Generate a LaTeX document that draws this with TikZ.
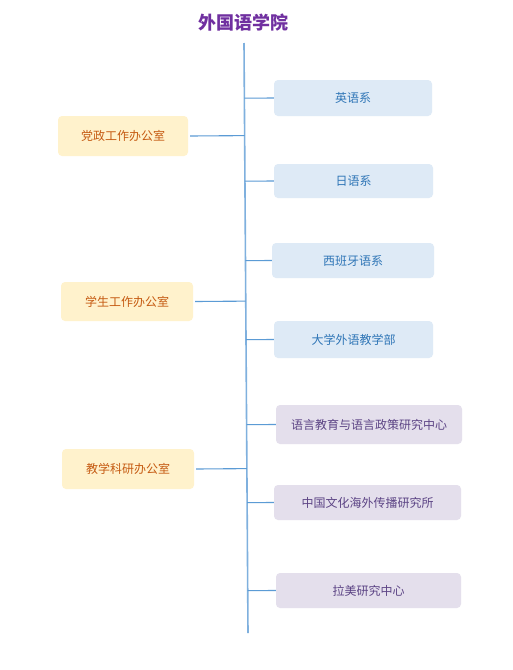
\documentclass[tikz,border=0pt]{standalone}
\usepackage{fontspec}
\setmainfont{Noto Sans CJK SC}
\usetikzlibrary{calc}
\definecolor{linec}{HTML}{5B9BD5}
\definecolor{vlinec}{HTML}{7FB0DE}
\definecolor{bluefill}{HTML}{DEEAF6}
\definecolor{bluetext}{HTML}{2E75B6}
\definecolor{yelfill}{HTML}{FFF2CC}
\definecolor{yeltext}{HTML}{C55A11}
\definecolor{purfill}{HTML}{E4DFEC}
\definecolor{purtext}{HTML}{5C4485}
\definecolor{titlec}{HTML}{7030A0}
\tikzset{
  box/.style={rounded corners=4pt, inner sep=0pt, font=\fontsize{12}{14}\selectfont},
  bluebox/.style={box, fill=bluefill, text=bluetext},
  yelbox/.style={box, fill=yelfill, text=yeltext},
  purbox/.style={box, fill=purfill, text=purtext},
  conn/.style={draw=linec, line width=1.1pt},
}
\begin{document}
\begin{tikzpicture}[x=1pt,y=-1pt]
\useasboundingbox[fill=white] (0,0) rectangle (513,670);
\node[font=\fontsize{18}{20}\selectfont\bfseries, text=titlec] (title) at (243,23) {外国语学院};
\coordinate (top) at (244,43);
\coordinate (bot) at (248,633);
\draw[draw=vlinec, line width=1.6pt] (top) -- (bot);

\node[bluebox, minimum width=158pt, minimum height=36pt] (en) at (353,98) {英语系};
\node[bluebox, minimum width=159pt, minimum height=34pt] (jp) at (353.5,181) {日语系};
\node[bluebox, minimum width=162pt, minimum height=35pt] (es) at (353,260.5) {西班牙语系};
\node[bluebox, minimum width=159pt, minimum height=37pt] (dx) at (353.5,339.5) {大学外语教学部};
\node[purbox, minimum width=186pt, minimum height=39pt] (yy) at (369,424.5) {语言教育与语言政策研究中心};
\node[purbox, minimum width=187pt, minimum height=35pt] (zg) at (367.5,502.5) {中国文化海外传播研究所};
\node[purbox, minimum width=185pt, minimum height=35pt] (lm) at (368.5,590.5) {拉美研究中心};

\node[yelbox, minimum width=130pt, minimum height=40pt] (dz) at (123,136) {党政工作办公室};
\node[yelbox, minimum width=132pt, minimum height=39pt] (xs) at (127,301.5) {学生工作办公室};
\node[yelbox, minimum width=132pt, minimum height=40pt] (jx) at (128,469) {教学科研办公室};

\foreach \n in {en,jp,es,dx,yy,zg,lm}{
  \draw[conn] ($(top)!(\n.west)!(bot)$) -- (\n.west);
}
\foreach \n in {dz,xs,jx}{
  \draw[conn] ([xshift=2pt]\n.east) -- ($(top)!(\n.east)!(bot)$);
}
\end{tikzpicture}
\end{document}
